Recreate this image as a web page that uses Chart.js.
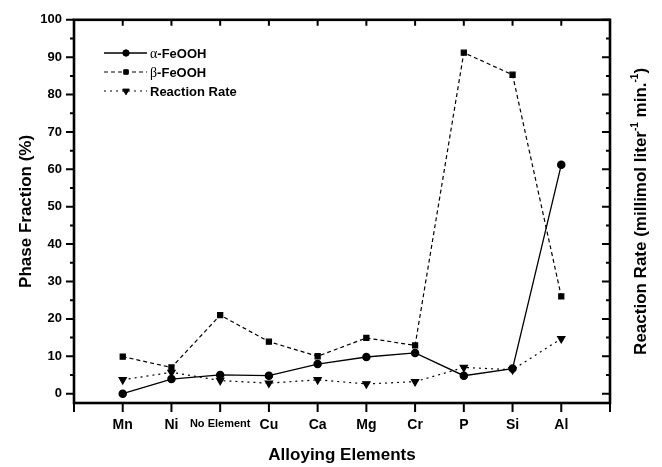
<!DOCTYPE html>
<html>
<head>
<meta charset="UTF-8">
<script src="https://cdn.jsdelivr.net/npm/chart.js@4/dist/chart.umd.min.js"></script>
<style>
    html, body { margin: 0; padding: 0; background: #fff; }
    #wrap { width: 662px; height: 467px; }
</style>
</head>
<body>
<div id="wrap"><canvas id="phaseChart" width="662" height="467"></canvas></div>
<script>
const categories   = ['Mn', 'Ni', 'No Element', 'Cu', 'Ca', 'Mg', 'Cr', 'P', 'Si', 'Al'];
const alphaFeOOH   = [0, 3.9, 5.0, 4.8, 7.9, 9.8, 10.9, 4.8, 6.7, 61.2];
const betaFeOOH    = [9.9, 7.0, 21.0, 13.9, 10.0, 14.9, 12.9, 91.2, 85.3, 26.0];
const reactionRate = [3.7, 5.7, 3.5, 2.8, 3.7, 2.6, 3.2, 7.0, 6.4, 14.7];
const seriesNames  = [['α', '-FeOOH'], ['β', '-FeOOH'], ['', 'Reaction Rate']];

const FONT = '"Liberation Sans", Arial, sans-serif';

const toPoints = arr => arr.map((v, i) => ({ x: i, y: v }));

// frame, tick marks, legend box and the right-hand title
const decorations = {
    id: 'decorations',
    afterDatasetsDraw(chart) {
        const { ctx, chartArea: a, scales } = chart;
        const xs = scales.x, ys = scales.y, y1 = scales.y1;
        ctx.save();
        ctx.strokeStyle = '#000';

        // ticks
        ctx.lineWidth = 2;
        ctx.beginPath();
        for (let v = 0; v <= 100; v += 5) {
            const major = v % 10 === 0;
            const py = ys.getPixelForValue(v);
            ctx.moveTo(a.left, py);
            ctx.lineTo(a.left - (major ? 8 : 4), py);
            const pr = y1.getPixelForValue(v);
            ctx.moveTo(a.right, pr);
            ctx.lineTo(a.right - (major ? 8 : 4), pr);
        }
        for (let i = -1; i <= categories.length; i++) {
            const px = xs.getPixelForValue(i);
            ctx.moveTo(px, a.bottom);
            ctx.lineTo(px, a.bottom + 9);
            if (i >= 0 && i < categories.length) {
                ctx.moveTo(px, a.top);
                ctx.lineTo(px, a.top + 6);
            }
        }
        ctx.stroke();

        // frame
        ctx.lineWidth = 2.6;
        ctx.strokeRect(a.left, a.top, a.right - a.left, a.bottom - a.top);

        // legend
        const rows = [53, 72, 91];
        chart.data.datasets.forEach((ds, i) => {
            const y = rows[i];
            ctx.save();
            ctx.lineWidth = ds.borderWidth;
            ctx.setLineDash(ds.borderDash || []);
            ctx.beginPath();
            ctx.moveTo(104, y);
            ctx.lineTo(147, y);
            ctx.stroke();
            ctx.restore();
            ctx.save();
            ctx.lineWidth = 1;
            ctx.fillStyle = '#000';
            Chart.helpers.drawPoint(ctx, {
                pointStyle: ds.pointStyle,
                radius: ds.pointRadius - 0.4,
                rotation: ds.pointRotation || 0,
                borderWidth: 1
            }, 126, y);
            ctx.restore();
            ctx.fillStyle = '#000';
            ctx.textBaseline = 'middle';
            ctx.textAlign = 'left';
            let tx = 150;
            const [greek, rest] = seriesNames[i];
            if (greek) {
                ctx.font = '14px "Liberation Serif", serif';
                ctx.fillText(greek, tx, y + 1);
                tx += ctx.measureText(greek).width;
            }
            ctx.font = 'bold 13px ' + FONT;
            ctx.fillText(rest, tx, y + 1);
        });

        // right axis title, read bottom to top
        const parts = [
            ['Reaction Rate (millimol liter', false],
            ['-1', true],
            [' min.', false],
            ['-1', true],
            [')', false]
        ];
        const big = 'bold 17px ' + FONT, small = 'bold 10px ' + FONT;
        let total = 0;
        parts.forEach(([t, sup]) => { ctx.font = sup ? small : big; total += ctx.measureText(t).width; });
        ctx.translate(641, (a.top + a.bottom) / 2);
        ctx.rotate(-Math.PI / 2);
        ctx.fillStyle = '#000';
        ctx.textBaseline = 'middle';
        ctx.textAlign = 'left';
        let x = -total / 2;
        parts.forEach(([t, sup]) => {
            ctx.font = sup ? small : big;
            ctx.fillText(t, x, sup ? -6 : 0);
            x += ctx.measureText(t).width;
        });
        ctx.restore();
    }
};

new Chart(document.getElementById('phaseChart'), {
    type: 'line',
    data: {
        datasets: [
            {
                label: 'α-FeOOH',
                data: toPoints(alphaFeOOH),
                borderColor: '#000',
                backgroundColor: '#000',
                borderWidth: 1.3,
                pointStyle: 'circle',
                pointRadius: 3.6,
                yAxisID: 'y'
            },
            {
                label: 'β-FeOOH',
                data: toPoints(betaFeOOH),
                borderColor: '#000',
                backgroundColor: '#000',
                borderWidth: 1.2,
                borderDash: [4, 3],
                pointStyle: 'rect',
                pointRadius: 3.6,
                yAxisID: 'y'
            },
            {
                label: 'Reaction Rate',
                data: toPoints(reactionRate),
                borderColor: '#000',
                backgroundColor: '#000',
                borderWidth: 1.2,
                borderDash: [2, 4],
                pointStyle: 'triangle',
                pointRotation: 180,
                pointRadius: 4.2,
                yAxisID: 'y1'
            }
        ]
    },
    options: {
        responsive: false,
        animation: false,
        layout: { padding: { top: 13, left: 0, right: 0, bottom: 0 } },
        elements: {
            line: { tension: 0 },
            point: { borderWidth: 1, hoverRadius: 4 }
        },
        plugins: {
            legend: { display: false },
            tooltip: { enabled: false }
        },
        scales: {
            x: {
                type: 'linear',
                min: -1,
                max: 10,
                grid: { display: false, drawTicks: false },
                border: { display: false },
                ticks: {
                    stepSize: 1,
                    autoSkip: false,
                    maxRotation: 0,
                    padding: 14,
                    color: '#000',
                    callback: v => categories[v] ?? '',
                    font: ctx => ({
                        family: FONT,
                        weight: 'bold',
                        size: ctx.tick && ctx.tick.value === 2 ? 11 : 14
                    })
                },
                title: {
                    display: true,
                    text: 'Alloying Elements',
                    color: '#000',
                    font: { family: FONT, weight: 'bold', size: 17 },
                    padding: { top: 0, bottom: 1 }
                },
                afterFit: s => { s.height = 64; }
            },
            y: {
                position: 'left',
                min: -2.5,
                max: 100,
                grid: { display: false, drawTicks: false },
                border: { display: false },
                ticks: {
                    stepSize: 5,
                    includeBounds: false,
                    autoSkip: false,
                    padding: 12,
                    color: '#000',
                    font: { family: FONT, weight: 'bold', size: 13 },
                    callback: v => (v >= 0 && v % 10 === 0 ? String(v) : '')
                },
                title: {
                    display: true,
                    text: 'Phase Fraction (%)',
                    color: '#000',
                    font: { family: FONT, weight: 'bold', size: 17 },
                    padding: { top: 16, bottom: 0 }
                },
                afterFit: s => { s.width = 74; }
            },
            y1: {
                position: 'right',
                min: -2.5,
                max: 100,
                grid: { display: false, drawTicks: false },
                border: { display: false },
                ticks: { display: false, stepSize: 5 },
                afterFit: s => { s.width = 52; }
            }
        }
    },
    plugins: [decorations]
});
</script>
</body>
</html>
